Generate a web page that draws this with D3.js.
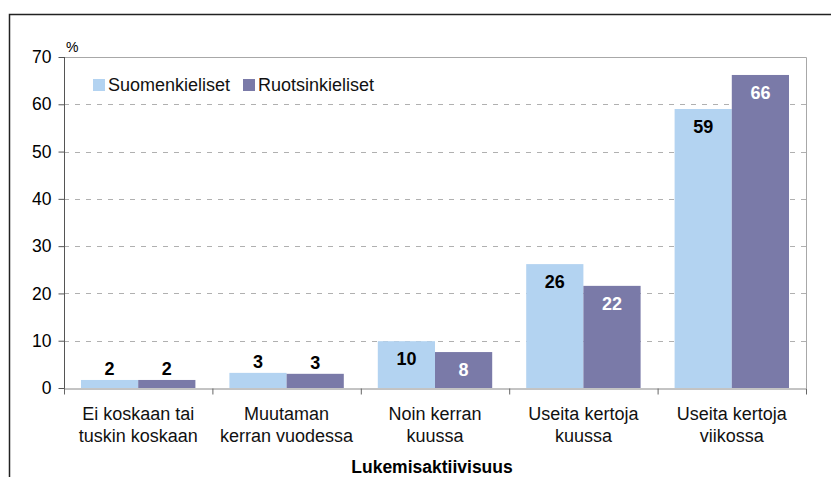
<!DOCTYPE html>
<html>
<head>
<meta charset="utf-8">
<script src="https://cdn.jsdelivr.net/npm/d3@7"></script>
<style>
  html, body { margin: 0; padding: 0; background: #fff; }
  svg { display: block; font-family: "Liberation Sans", Arial, sans-serif; }
</style>
</head>
<body>
<svg id="chart" width="831" height="477"></svg>
<script>
const categories = [
  ["Ei koskaan tai", "tuskin koskaan"],
  ["Muutaman", "kerran vuodessa"],
  ["Noin kerran", "kuussa"],
  ["Useita kertoja", "kuussa"],
  ["Useita kertoja", "viikossa"]
];
const seriesNames = ["Suomenkieliset", "Ruotsinkieliset"];
const suomenkieliset = [1.7, 3.2, 9.9, 26.2, 59.0];
const ruotsinkieliset = [1.7, 3.0, 7.6, 21.6, 66.2];
const yTicks = [0, 10, 20, 30, 40, 50, 60, 70];
const yUnit = "%";
const xTitle = "Lukemisaktiivisuus";
const colors = ["#b3d3f1", "#7a7aa8"];
const labelColors = ["#000", "#fff"];

const svg = d3.select("#chart");
const pLeft = 64, pRight = 806, pTop = 57, pBottom = 388;

// outer frame
svg.append("path").attr("d", "M9.5,477 L9.5,14.5 L831,14.5")
  .attr("fill", "none").attr("stroke", "#222").attr("stroke-width", 1.5);

const catIdx = categories.map((d, i) => i);
const x0 = d3.scaleBand().domain(catIdx).range([pLeft, pRight]).padding(0);
const pad = 17;
const x1 = d3.scaleBand().domain([0, 1]).range([pad, x0.bandwidth() - pad]).padding(0);
const y = d3.scaleLinear().domain([0, 70]).range([pBottom, pTop]);

// gridlines
svg.append("g").selectAll("line").data(yTicks.filter(t => t > 0 && t < 70)).join("line")
  .attr("x1", pLeft).attr("x2", pRight)
  .attr("y1", d => Math.round(y(d)) + 0.5).attr("y2", d => Math.round(y(d)) + 0.5)
  .attr("stroke", "#b0b0b0").attr("stroke-width", 1).attr("stroke-dasharray", "5,6");

// plot area top/right border
svg.append("path")
  .attr("d", `M${pLeft},${Math.round(y(70)) + 0.5} L${pRight + 0.5},${Math.round(y(70)) + 0.5} L${pRight + 0.5},${pBottom}`)
  .attr("fill", "none").attr("stroke", "#a8a8a8").attr("stroke-width", 1);

// bars
const data = categories.map((c, i) => [suomenkieliset[i], ruotsinkieliset[i]]);
const groups = svg.append("g").selectAll("g").data(data).join("g")
  .attr("transform", (d, i) => `translate(${x0(i)},0)`);
groups.selectAll("rect").data(d => d.map((v, s) => ({ v, s }))).join("rect")
  .attr("x", d => x1(d.s)).attr("width", x1.bandwidth())
  .attr("y", d => y(d.v)).attr("height", d => y(0) - y(d.v))
  .attr("fill", d => colors[d.s]);

// value labels
groups.selectAll("text").data(d => d.map((v, s) => ({ v, s }))).join("text")
  .attr("x", d => x1(d.s) + x1.bandwidth() / 2)
  .attr("y", d => d.v > 5 ? y(d.v) + 17.5 : y(d.v) - 11)
  .attr("dy", "0.35em")
  .attr("text-anchor", "middle")
  .attr("font-size", 18).attr("font-weight", "bold")
  .attr("fill", d => d.v > 5 ? labelColors[d.s] : "#000")
  .text(d => d3.format(".0f")(d.v));

// y axis
const yAxis = d3.axisLeft(y).tickValues(yTicks).tickSize(6).tickSizeOuter(0);
const gy = svg.append("g").attr("transform", `translate(${pLeft + 0.5},0)`).call(yAxis);
gy.select(".domain").attr("stroke", "#555").attr("d", `M0,${pTop} V${pBottom + 6}`);
gy.selectAll(".tick line").attr("stroke", "#555");
gy.selectAll(".tick text").attr("font-size", 17.5).attr("fill", "#000")
  .attr("font-family", "Liberation Sans, Arial, sans-serif").attr("x", -13);

// x axis
const xTickScale = d3.scaleLinear().domain([0, categories.length]).range([pLeft, pRight]);
const xAxis = d3.axisBottom(xTickScale).tickValues(d3.range(0, categories.length + 1)).tickSize(6).tickSizeOuter(0).tickFormat("");
const gx = svg.append("g").attr("transform", `translate(0,${pBottom + 0.5})`).call(xAxis);
gx.select(".domain").attr("stroke", "#888");
gx.selectAll(".tick line").attr("stroke", "#666");

// category labels
const cl = svg.append("g").selectAll("text").data(categories).join("text")
  .attr("text-anchor", "middle").attr("font-size", 18).attr("fill", "#111")
  .attr("x", (d, i) => x0(i) + x0.bandwidth() / 2);
cl.selectAll("tspan").data(d => d).join("tspan")
  .attr("x", function () { return d3.select(this.parentNode).attr("x"); })
  .attr("y", (d, j) => 420 + j * 21.5)
  .text(d => d);

// axis title
svg.append("text").attr("x", 432).attr("y", 473).attr("text-anchor", "middle")
  .attr("font-size", 17.5).attr("font-weight", "bold").attr("fill", "#000").text(xTitle);

// unit
svg.append("text").attr("x", 66).attr("y", 52).attr("font-size", 14).attr("fill", "#000").text(yUnit);

// legend
const legendX = [93, 243];
const lg = svg.append("g").selectAll("g").data(seriesNames).join("g")
  .attr("transform", (d, i) => `translate(${legendX[i]},79)`);
lg.append("rect").attr("width", 12).attr("height", 12).attr("fill", (d, i) => colors[i]);
lg.append("text").attr("x", 15).attr("y", 11.5).attr("font-size", 18).attr("fill", "#111").text(d => d);
</script>
</body>
</html>
